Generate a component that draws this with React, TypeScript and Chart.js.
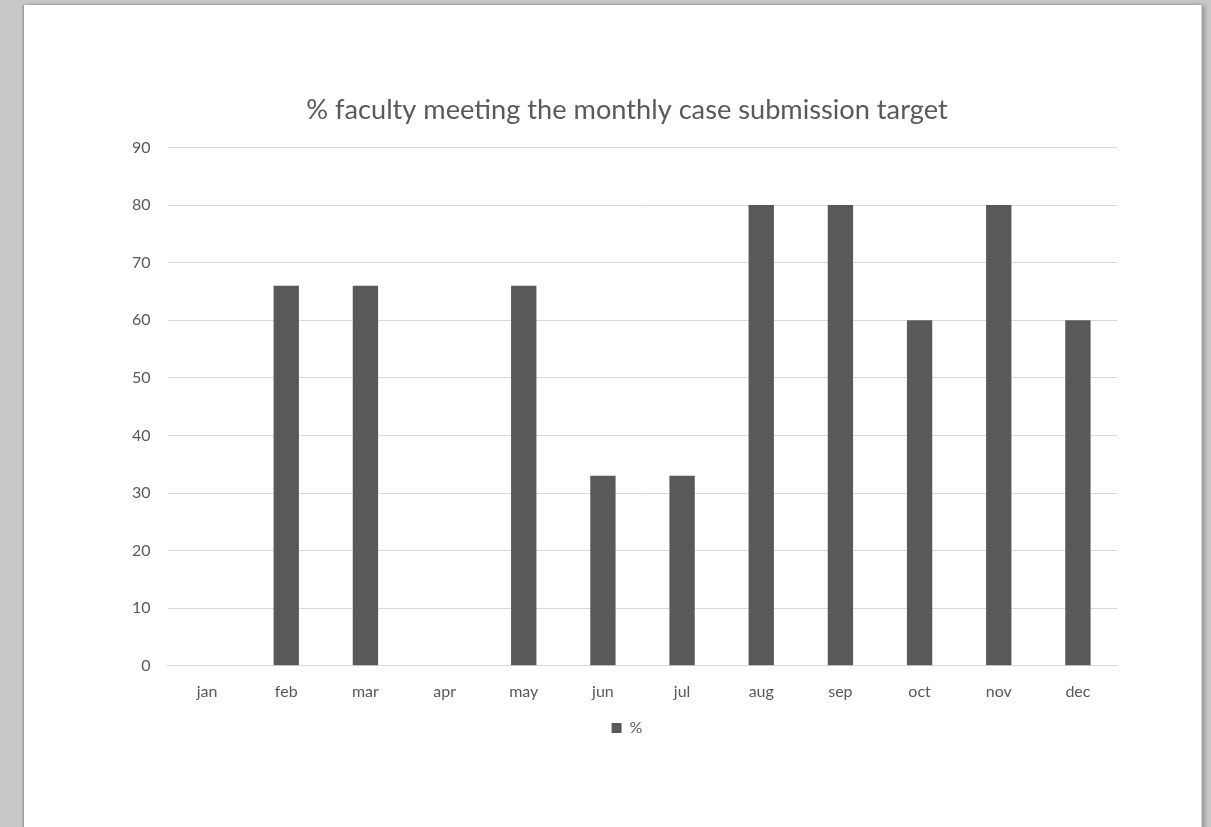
import React, { useEffect, useRef } from "react";
import { Chart, registerables } from "chart.js";

Chart.register(...registerables);

const months = ["jan", "feb", "mar", "apr", "may", "jun", "jul", "aug", "sep", "oct", "nov", "dec"];
const percentValues = [0, 66, 66, 0, 66, 33, 33, 80, 80, 60, 80, 60];
const seriesLabel = "%";
const chartTitle = "% faculty meeting the monthly case submission target";

const FONT = "Lato, 'Open Sans', sans-serif";
const TEXT = "#595959";

export default function App() {
  const ref = useRef<HTMLCanvasElement | null>(null);

  useEffect(() => {
    if (!ref.current) return;
    const chart = new Chart(ref.current, {
      type: "bar",
      data: {
        labels: months,
        datasets: [
          {
            label: seriesLabel,
            data: percentValues,
            backgroundColor: "#595959",
            borderWidth: 0,
            barPercentage: 0.4,
            categoryPercentage: 0.8,
            yAxisID: "y",
          },
        ],
      },
      options: {
        animation: false,
        responsive: false,
        layout: { padding: { left: 0, right: 0, top: 0, bottom: 0 } },
        plugins: {
          title: {
            display: true,
            text: chartTitle,
            color: TEXT,
            font: { family: FONT, size: 27.2, weight: "normal" },
            padding: { top: 88.7, bottom: 21.2 },
          },
          legend: {
            display: true,
            position: "bottom",
            labels: {
              color: TEXT,
              font: { family: FONT, size: 16 },
              boxWidth: 10,
              boxHeight: 10,
              padding: 3,
            },
          },
          tooltip: { enabled: false },
        },
        scales: {
          x: {
            grid: { display: false, drawTicks: false },
            border: { display: true, color: "#d9d9d9" },
            ticks: { color: TEXT, font: { family: FONT, size: 16 }, padding: 16 },
          },
          y: {
            position: "left",
            min: 0,
            max: 90,
            ticks: { stepSize: 10, color: TEXT, font: { family: FONT, size: 16 }, padding: 17 },
            grid: { color: "#d9d9d9", drawTicks: false },
            border: { display: false },
            afterFit: (scale: any) => {
              scale.width = 60.5;
            },
          },
          yr: {
            type: "linear",
            position: "right",
            display: true,
            grid: { display: false, drawTicks: false },
            border: { display: false },
            ticks: { display: false },
            afterFit: (scale: any) => {
              scale.width = 29.5;
            },
          },
        },
      },
    });
    return () => chart.destroy();
  }, []);

  return (
    <div style={{ position: "fixed", inset: 0, background: "#c7c8c7", overflow: "hidden" }}>
      <div
        style={{
          position: "absolute",
          left: 24,
          top: 5,
          width: 1177,
          height: 840,
          background: "#ffffff",
          boxShadow: "-1px 0 2px #8a8a8a, 1px 0 0 #e0e0e0, 4px 0 4px #9a9a9a, 0 -1px 1px #d0d0d0",
        }}
      >
        <canvas ref={ref} width={1040} height={741} style={{ position: "absolute", left: 83, top: 0 }} />
      </div>
    </div>
  );
}
